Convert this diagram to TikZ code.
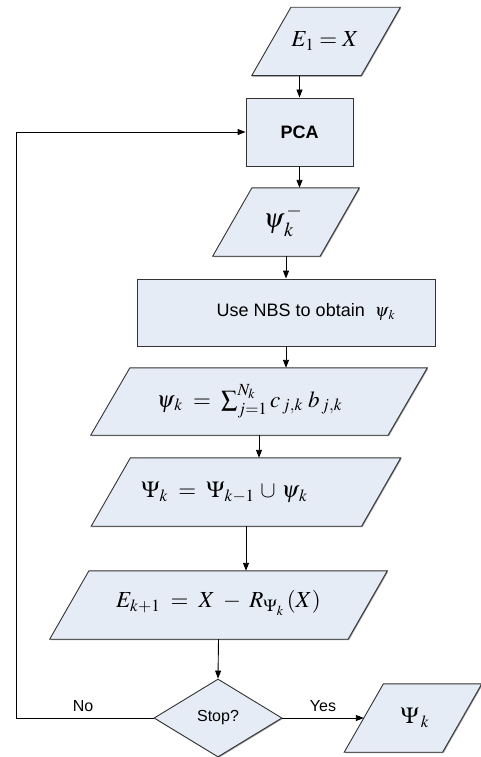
\documentclass[tikz,border=0pt]{standalone}
\usepackage{mathptmx}
\usepackage{fontspec}
\setmainfont{Liberation Sans}
\usetikzlibrary{shapes.geometric,arrows.meta,shadows}
\definecolor{boxfill}{HTML}{E6ECF6}
\definecolor{boxline}{HTML}{333333}
\tikzset{
  base/.style={draw=boxline, line width=0.9pt, fill=boxfill, inner sep=0pt,
    drop shadow={shadow xshift=0.9pt, shadow yshift=-0.9pt, fill=black!40, opacity=1}},
  iocore/.style={rectangle, inner sep=0pt, minimum height=68pt},
  procbox/.style={base, rectangle},
  decide/.style={base, diamond, minimum width=128pt, minimum height=78pt},
  flow/.style={draw=black, line width=0.9pt, -{Triangle[length=8pt,width=6pt]}},
  mtxt/.style={font=\fontsize{23}{27}\selectfont, inner sep=0pt},
  stxt/.style={font=\fontsize{16}{19}\selectfont, inner sep=0pt},
  ltxt/.style={font=\fontsize{18}{21}\selectfont, inner sep=0pt}
}
% slanted input/output box drawn around a named core node
\newcommand\iobox[1]{%
  \path[base] ([xshift=-19.6pt]#1.south west) -- ([xshift=-19.6pt]#1.south east)
    -- ([xshift=19.6pt]#1.north east) -- ([xshift=19.6pt]#1.north west) -- cycle;}
\begin{document}
\begin{tikzpicture}[x=1pt,y=-1pt]
\useasboundingbox (0,0) rectangle (480,757);

% shapes
\node[iocore, minimum width=109pt] (in1) at (326,41.5) {}; \iobox{in1}
\node[procbox, minimum width=107pt, minimum height=68pt] (pca) at (299.5,132) {};
\node[iocore, minimum width=107pt] (psim) at (286,222) {}; \iobox{psim}
\node[procbox, minimum width=298pt, minimum height=67pt] (nbs) at (286,312.5) {};
\node[iocore, minimum width=297pt, minimum height=67pt] (psisum) at (259,401.5) {}; \iobox{psisum}
\node[iocore, minimum width=270pt] (psiunion) at (246,492) {}; \iobox{psiunion}
\node[iocore, minimum width=298pt] (eupd) at (218.5,605) {}; \iobox{eupd}
\node[decide] (stop) at (218,718) {};
\node[iocore, minimum width=98pt] (out) at (413,718) {}; \iobox{out}

% texts
\node[mtxt] (t1) at (325,41) {$E_1 = X$};
\node[ltxt, font=\fontsize{18}{21}\selectfont\bfseries] (t2) at (299.5,132) {PCA};
\node[mtxt, font=\fontsize{27}{31}\selectfont] (t3) at (283,221) {$\psi_{\,k}^{\,-}$};
\node[ltxt] (t4) at (306,312) {Use NBS to obtain \ $\psi_{\,k}$};
\node[mtxt] (t5) at (249.5,401) {$\psi_{\,k} \;=\; \sum_{j=1}^{N_k} c_{\,j,k}\; b_{\,j,k}$};
\node[mtxt] (t6) at (224.5,492) {$\Psi_{k} \;=\; \Psi_{k-1} \,\cup\, \psi_{\,k}$};
\node[mtxt] (t7) at (218.5,603) {$E_{k+1} \;=\; X \;-\; R_{\Psi_k}\,(X)$};
\node[stxt] (t8) at (218,718) {Stop?};
\node[mtxt] (t9) at (415,718) {$\Psi_{\,k}$};
\node[stxt] (no) at (83,706) {No};
\node[stxt] (yes) at (323,706) {Yes};

% connectors
\coordinate (loopb) at (16,718);
\draw[flow] (pca.north |- in1.south) -- (pca.north);
\draw[flow] (pca.south) -- (pca.south |- psim.north);
\draw[flow] (psim.south) -- (psim.south |- nbs.north);
\draw[flow] (nbs.south) -- (nbs.south |- psisum.north);
\draw[flow] (psisum.south) -- (psisum.south |- psiunion.north);
\draw[flow] (psiunion.south) -- (psiunion.south |- eupd.north);
\draw[flow] (eupd.south) -- (stop.north);
\draw[flow] (stop.east) -- (out.west);
\draw[flow] (stop.west) -- (loopb) |- (pca.west);
\end{tikzpicture}
\end{document}
